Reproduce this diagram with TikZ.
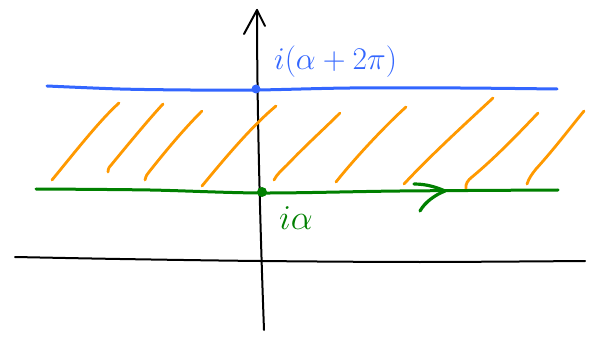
\documentclass[tikz,border=0pt]{standalone}
\usepackage{graphicx}
\usetikzlibrary{calc}
\definecolor{penblue}{RGB}{51,102,255}
\definecolor{pengreen}{RGB}{0,128,0}
\definecolor{penorange}{RGB}{255,153,0}
\tikzset{
  pen/.style={line width=2.6pt, line cap=round, line join=round},
  hatch/.style={pen, penorange, line width=2.8pt},
  lbl/.style={inner sep=0pt, font=\Huge}
}
\begin{document}
\begin{tikzpicture}[x=1pt,y=-1pt]
\useasboundingbox (0,0) rectangle (605,339);
% horizontal real axis
\draw[pen, black, line width=2pt] plot[smooth] coordinates {(15,257) (120,259) (260,261) (420,262) (585,261)};
% vertical axis
\coordinate (vb) at (264,330);
\coordinate (vt) at (257,10);
\draw[pen, black, line width=2pt] (vb) .. controls (261,250) and (257,120) .. (vt);
\draw[pen, black, line width=2pt] (244,34) -- (vt) -- (265,26);
% hatching
\draw[hatch] (52,180) .. controls (75,152) and (100,120) .. (119,103);
\draw[hatch] (108,172) .. controls (108,168) and (110,166) .. (112,164) .. controls (130,142) and (150,118) .. (163,104);
\draw[hatch] (145,180) .. controls (146,176) and (147,174) .. (149,172) .. controls (168,148) and (185,128) .. (202,111);
\draw[hatch] (202,186) .. controls (225,158) and (252,126) .. (276,106);
\draw[hatch] (274,180) .. controls (277,174) and (282,170) .. (287,165) .. controls (305,146) and (325,128) .. (340,113);
\draw[hatch] (336,182) .. controls (355,158) and (385,126) .. (406,107);
\draw[hatch] (404,184) .. controls (430,156) and (465,124) .. (493,98);
\draw[hatch] (466,189) .. controls (465,184) and (468,180) .. (472,177) .. controls (495,158) and (520,132) .. (538,113);
\draw[hatch] (527,184) .. controls (529,178) and (532,174) .. (536,169) .. controls (555,148) and (570,128) .. (584,111);
% blue line
\draw[pen, penblue, line width=3pt] plot[smooth] coordinates {(47,86) (120,89) (190,90) (257,90) (350,88) (460,88) (557,89)};
\fill[penblue] (256,89) circle (4.5);
\node[lbl, penblue, anchor=west] (top) at (274,62) {\scalebox{1.27}{$i(\alpha+2\pi)$}};
% green line
\draw[pen, pengreen, line width=3pt] plot[smooth] coordinates {(36,189) (150,190) (262,193) (400,191) (558,190)};
\fill[pengreen] (262,192) circle (5);
\draw[pen, pengreen, line width=3.2pt] (414,184) .. controls (428,184) and (438,188) .. (445,191) .. controls (435,195) and (425,202) .. (420,211);
\node[lbl, pengreen, anchor=west] (bot) at (279,218) {\scalebox{1.4}{$i\alpha$}};
\end{tikzpicture}
\end{document}
